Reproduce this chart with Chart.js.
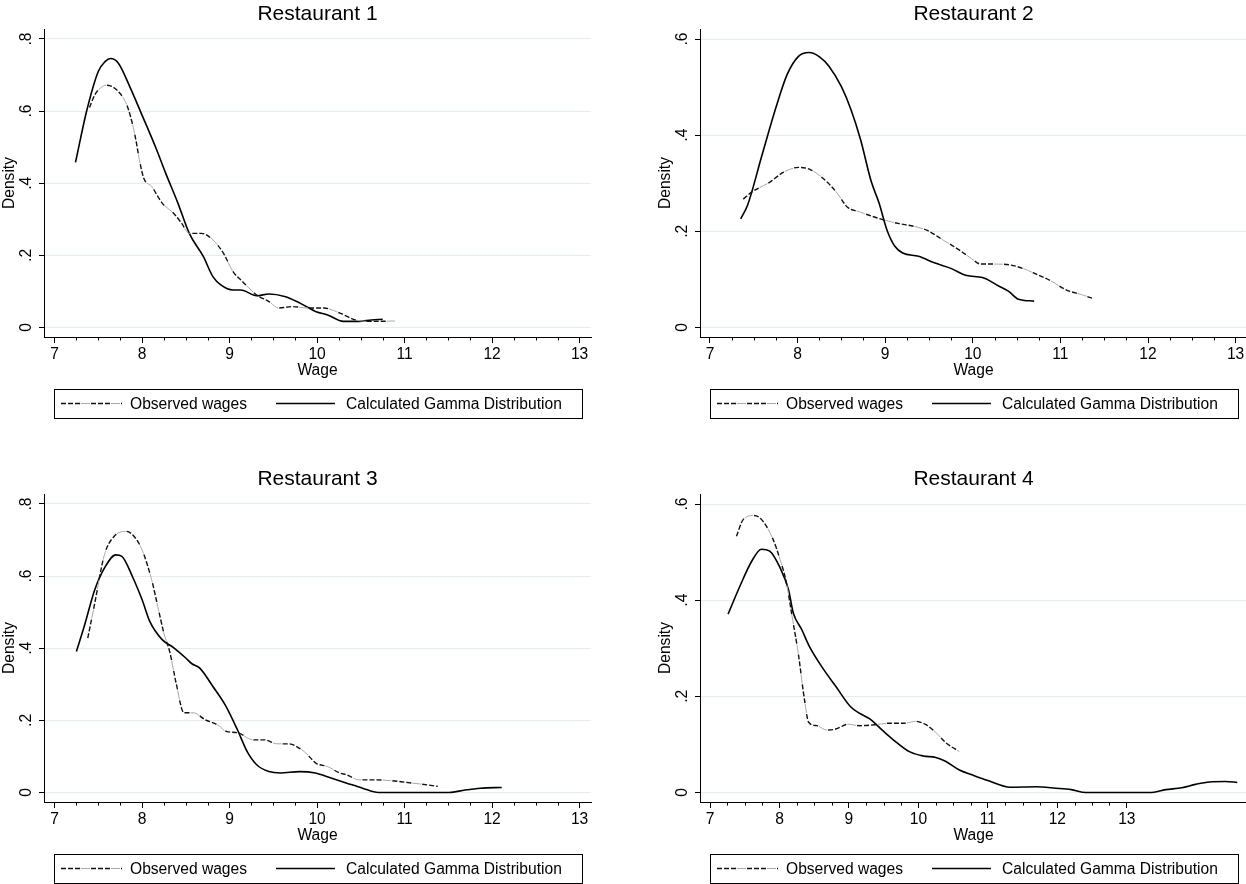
<!DOCTYPE html>
<html>
<head>
<meta charset="utf-8">
<script src="https://cdn.jsdelivr.net/npm/chart.js@4.4.1/dist/chart.umd.min.js"></script>
<style>
    html, body { margin: 0; padding: 0; background: #fff; overflow: hidden; width: 1246px; height: 884px; }
    canvas { position: absolute; }
</style>
</head>
<body>
<canvas id="c1" width="620" height="465" style="left:0;top:0"></canvas>
<canvas id="c2" width="630" height="465" style="left:620px;top:0"></canvas>
<canvas id="c3" width="620" height="465" style="left:0;top:465px"></canvas>
<canvas id="c4" width="630" height="465" style="left:620px;top:465px"></canvas>
<script>
(function () {
    'use strict';

    // Data
    var panelTitles  = ['Restaurant 1', 'Restaurant 2', 'Restaurant 3', 'Restaurant 4'];
    var legendLabels = ['Observed wages', 'Calculated Gamma Distribution'];
    var xTitle = 'Wage';
    var yTitle = 'Density';

    var xTicks       = [7, 8, 9, 10, 11, 12, 13];
    var yTicksHigh   = [0, 0.2, 0.4, 0.6, 0.8];
    var yTicksLow    = [0, 0.2, 0.4, 0.6];
    var yTickLabels  = { 0: '0', 0.2: '.2', 0.4: '.4', 0.6: '.6', 0.8: '.8' };

    // Restaurant 1
    var r1ObsX = [7.40, 7.46, 7.53, 7.59, 7.66, 7.73, 7.79, 7.84, 7.89, 7.93, 7.97, 8.02, 8.11, 8.23, 8.36, 8.45, 8.54, 8.68, 8.81, 8.93, 9.04, 9.15, 9.31, 9.45, 9.56, 9.72, 9.90, 10.08, 10.26, 10.44, 10.62, 10.89];
    var r1ObsY = [0.610, 0.645, 0.665, 0.672, 0.668, 0.654, 0.635, 0.608, 0.565, 0.520, 0.465, 0.414, 0.391, 0.345, 0.317, 0.290, 0.261, 0.261, 0.243, 0.206, 0.155, 0.127, 0.090, 0.072, 0.054, 0.058, 0.054, 0.054, 0.040, 0.021, 0.017, 0.018];
    var r1GamX = [7.24, 7.37, 7.50, 7.58, 7.64, 7.73, 7.86, 8.00, 8.16, 8.27, 8.41, 8.54, 8.70, 8.81, 8.90, 9.04, 9.13, 9.31, 9.45, 9.63, 9.81, 9.99, 10.12, 10.30, 10.48, 10.62, 10.75];
    var r1GamY = [0.458, 0.603, 0.710, 0.738, 0.746, 0.733, 0.668, 0.589, 0.497, 0.428, 0.345, 0.261, 0.197, 0.141, 0.118, 0.104, 0.104, 0.088, 0.093, 0.086, 0.067, 0.044, 0.035, 0.017, 0.017, 0.021, 0.023];

    // Restaurant 2
    var r2ObsX = [7.38, 7.47, 7.68, 7.84, 8.01, 8.15, 8.34, 8.45, 8.57, 8.70, 8.84, 9.00, 9.16, 9.34, 9.48, 9.66, 9.84, 9.98, 10.09, 10.25, 10.43, 10.57, 10.70, 10.89, 11.07, 11.25, 11.36];
    var r2ObsY = [0.267, 0.281, 0.302, 0.323, 0.333, 0.328, 0.302, 0.280, 0.250, 0.241, 0.232, 0.223, 0.216, 0.210, 0.202, 0.182, 0.162, 0.144, 0.132, 0.132, 0.130, 0.123, 0.113, 0.097, 0.078, 0.068, 0.061];
    var r2GamX = [7.35, 7.43, 7.59, 7.75, 7.88, 8.01, 8.13, 8.25, 8.36, 8.50, 8.61, 8.72, 8.84, 8.93, 9.02, 9.11, 9.20, 9.38, 9.57, 9.75, 9.93, 10.11, 10.29, 10.41, 10.52, 10.70];
    var r2GamY = [0.226, 0.255, 0.356, 0.456, 0.526, 0.564, 0.572, 0.563, 0.543, 0.501, 0.453, 0.390, 0.304, 0.259, 0.203, 0.169, 0.155, 0.148, 0.134, 0.123, 0.108, 0.104, 0.087, 0.075, 0.059, 0.055];

    // Restaurant 3
    var r3ObsX = [7.38, 7.46, 7.57, 7.68, 7.82, 7.91, 8.00, 8.11, 8.18, 8.25, 8.32, 8.39, 8.48, 8.59, 8.72, 8.86, 8.97, 9.09, 9.27, 9.40, 9.54, 9.67, 9.85, 9.99, 10.12, 10.26, 10.34, 10.48, 10.66, 10.84, 11.02, 11.20, 11.38];
    var r3ObsY = [0.428, 0.525, 0.659, 0.710, 0.724, 0.710, 0.673, 0.590, 0.516, 0.442, 0.387, 0.303, 0.221, 0.221, 0.202, 0.188, 0.169, 0.166, 0.146, 0.146, 0.135, 0.135, 0.114, 0.081, 0.072, 0.054, 0.049, 0.035, 0.035, 0.033, 0.028, 0.023, 0.017];
    var r3GamX = [7.25, 7.34, 7.46, 7.57, 7.70, 7.77, 7.89, 8.00, 8.09, 8.23, 8.36, 8.50, 8.57, 8.66, 8.81, 8.95, 9.09, 9.20, 9.31, 9.45, 9.58, 9.80, 9.98, 10.16, 10.34, 10.52, 10.70, 10.88, 11.10, 11.33, 11.51, 11.69, 11.87, 12.11];
    var r3GamY = [0.391, 0.461, 0.562, 0.622, 0.659, 0.655, 0.599, 0.535, 0.474, 0.424, 0.402, 0.373, 0.357, 0.345, 0.294, 0.243, 0.174, 0.114, 0.077, 0.058, 0.054, 0.058, 0.054, 0.040, 0.026, 0.012, 0.000, 0.000, 0.000, 0.000, 0.000, 0.007, 0.012, 0.014];

    // Restaurant 4
    var r4ObsX = [7.38, 7.48, 7.63, 7.74, 7.90, 8.01, 8.10, 8.19, 8.27, 8.36, 8.42, 8.54, 8.68, 8.81, 8.99, 9.15, 9.38, 9.56, 9.79, 9.96, 10.11, 10.25, 10.40, 10.59];
    var r4ObsY = [0.533, 0.568, 0.576, 0.568, 0.529, 0.484, 0.436, 0.359, 0.290, 0.193, 0.146, 0.139, 0.130, 0.132, 0.142, 0.139, 0.141, 0.144, 0.144, 0.148, 0.141, 0.125, 0.103, 0.085];
    var r4GamX = [7.26, 7.43, 7.60, 7.74, 7.86, 8.01, 8.13, 8.20, 8.32, 8.43, 8.64, 8.81, 9.02, 9.15, 9.30, 9.50, 9.67, 9.87, 10.07, 10.25, 10.39, 10.59, 10.77, 11.00, 11.32, 11.69, 11.98, 12.20, 12.41, 12.72, 13.01, 13.33, 13.56, 13.79, 13.99, 14.19, 14.42, 14.59];
    var r4GamY = [0.371, 0.429, 0.481, 0.506, 0.502, 0.467, 0.422, 0.373, 0.339, 0.304, 0.255, 0.221, 0.179, 0.165, 0.153, 0.127, 0.106, 0.085, 0.076, 0.073, 0.065, 0.047, 0.037, 0.025, 0.011, 0.012, 0.009, 0.006, 0.000, 0.000, 0.000, 0.000, 0.006, 0.010, 0.017, 0.022, 0.023, 0.021];

    var FONT = '"Liberation Sans", Arial, Helvetica, sans-serif';
    var GRID = '#e4ecee';

    function pts(xs, ys) {
        var out = [];
        for (var i = 0; i < xs.length; i++) out.push({ x: xs[i], y: ys[i] });
        return out;
    }

    // Titles, rotated y labels, minor x ticks and the boxed legend
    var decor = {
        id: 'decor',
        afterDraw: function (chart) {
            var ctx = chart.ctx;
            var ca = chart.chartArea;
            var xs = chart.scales.x;
            var ys = chart.scales.y;
            var opt = chart.options.plugins.decor;

            ctx.save();
            ctx.fillStyle = '#000';

            // panel title
            ctx.font = '21px ' + FONT;
            ctx.textAlign = 'center';
            ctx.textBaseline = 'middle';
            ctx.fillText(opt.title, (ca.left + ca.right) / 2, 14);

            // y tick labels, rotated like the original
            ctx.font = '15.6px ' + FONT;
            ys.ticks.forEach(function (t) {
                var py = ys.getPixelForValue(t.value);
                ctx.save();
                ctx.translate(ca.left - 17.5, py);
                ctx.rotate(-Math.PI / 2);
                ctx.fillText(yTickLabels[t.value], 0, 0);
                ctx.restore();
            });

            // minor x ticks every quarter
            ctx.strokeStyle = '#000';
            ctx.lineWidth = 1;
            ctx.beginPath();
            for (var v = xTicks[0]; v < xTicks[xTicks.length - 1]; v += 0.25) {
                if (v % 1 === 0) continue;
                var px = Math.round(xs.getPixelForValue(v)) + 0.5;
                ctx.moveTo(px, ca.bottom);
                ctx.lineTo(px, ca.bottom + 3.5);
            }
            ctx.stroke();

            // legend box
            var bx = Math.round(ca.left) + 10, by = 389, bw = 528, bh = 29;
            var ly = by + 14.5;
            ctx.strokeStyle = '#000';
            ctx.lineWidth = 1;
            ctx.strokeRect(bx + 0.5, by + 0.5, bw, bh);

            var dsGrey = chart.data.datasets[0];
            var dsObs  = chart.data.datasets[1];
            var dsGam  = chart.data.datasets[2];

            function sample(ds, x0, x1) {
                ctx.save();
                ctx.strokeStyle = ds.borderColor;
                ctx.lineWidth = ds.borderWidth;
                ctx.setLineDash(ds.borderDash || []);
                ctx.lineDashOffset = ds.borderDashOffset || 0;
                ctx.beginPath();
                ctx.moveTo(x0, ly);
                ctx.lineTo(x1, ly);
                ctx.stroke();
                ctx.restore();
            }
            sample(dsGrey, bx + 7, bx + 68);
            sample(dsObs,  bx + 7, bx + 68);
            sample(dsGam,  bx + 222, bx + 281);

            ctx.font = '15.6px ' + FONT;
            ctx.textAlign = 'left';
            ctx.textBaseline = 'middle';
            ctx.fillText(legendLabels[0], bx + 76, ly + 1);
            ctx.fillText(legendLabels[1], bx + 292, ly + 1);
            ctx.restore();
        }
    };

    function makeChart(id, title, obsX, obsY, gamX, gamY, cfg) {
        var config = {
            type: 'line',
            data: {
                datasets: [{
                    label: legendLabels[0],
                    data: pts(obsX, obsY),
                    borderColor: '#a8a8a8',
                    borderWidth: 1,
                    borderDash: [9, 21],
                    borderDashOffset: -20,
                    pointRadius: 0,
                    cubicInterpolationMode: 'monotone',
                    fill: false
                }, {
                    label: legendLabels[0],
                    data: pts(obsX, obsY),
                    borderColor: '#111',
                    borderWidth: 1.4,
                    borderDash: [5, 2, 5, 2, 5, 11],
                    pointRadius: 0,
                    cubicInterpolationMode: 'monotone',
                    fill: false
                }, {
                    label: legendLabels[1],
                    data: pts(gamX, gamY),
                    borderColor: '#000',
                    borderWidth: 1.6,
                    pointRadius: 0,
                    cubicInterpolationMode: 'monotone',
                    fill: false
                }]
            },
            options: {
                responsive: false,
                animation: false,
                devicePixelRatio: 1,
                layout: { padding: { top: 29, bottom: 80, left: cfg.padLeft, right: cfg.padRight } },
                plugins: {
                    legend: { display: false },
                    tooltip: { enabled: false },
                    decor: { title: title }
                },
                scales: {
                    x: {
                        type: 'linear',
                        min: cfg.xMin,
                        max: cfg.xMax,
                        afterBuildTicks: function (s) {
                            s.ticks = xTicks.map(function (v) { return { value: v }; });
                        },
                        afterFit: function (s) { s.height = 48; },
                        ticks: {
                            color: '#000',
                            font: { family: FONT, size: 15.6 },
                            padding: 2,
                            maxRotation: 0,
                            autoSkip: false
                        },
                        grid: { drawOnChartArea: false, drawTicks: true, tickLength: 6, tickColor: '#000' },
                        border: { display: true, color: '#000', width: 1 },
                        title: {
                            display: true,
                            text: xTitle,
                            color: '#000',
                            font: { family: FONT, size: 15.6 },
                            padding: { top: 0, bottom: 4.6 }
                        }
                    },
                    y: {
                        type: 'linear',
                        min: cfg.yMin,
                        max: cfg.yMax,
                        afterBuildTicks: function (s) {
                            s.ticks = cfg.yTicks.map(function (v) { return { value: v }; });
                        },
                        afterFit: function (s) { s.width = 44; },
                        ticks: { display: false },
                        grid: { color: GRID, lineWidth: 1, drawTicks: true, tickLength: 5, tickColor: '#000' },
                        border: { display: true, color: '#000', width: 1 },
                        title: {
                            display: true,
                            text: yTitle,
                            color: '#000',
                            font: { family: FONT, size: 15.6 },
                            padding: { top: 0, bottom: 0 }
                        }
                    }
                }
            },
            plugins: [decor]
        };
        return new Chart(document.getElementById(id), config);
    }

    // axis ranges so that tick positions line up with the original
    var highY = { yMin: -0.0263, yMax: 0.8277, yTicks: yTicksHigh };
    var lowY  = { yMin: -0.0197, yMax: 0.6208, yTicks: yTicksLow };

    makeChart('c1', panelTitles[0], r1ObsX, r1ObsY, r1GamX, r1GamY,
        { padLeft: 0,  padRight: 29, xMin: 6.88,  xMax: 13.13, yMin: highY.yMin, yMax: highY.yMax, yTicks: highY.yTicks });
    makeChart('c2', panelTitles[1], r2ObsX, r2ObsY, r2GamX, r2GamY,
        { padLeft: 36, padRight: 3,  xMin: 6.886, xMax: 13.13, yMin: lowY.yMin,  yMax: lowY.yMax,  yTicks: lowY.yTicks });
    makeChart('c3', panelTitles[2], r3ObsX, r3ObsY, r3GamX, r3GamY,
        { padLeft: 0,  padRight: 29, xMin: 6.88,  xMax: 13.13, yMin: highY.yMin, yMax: highY.yMax, yTicks: highY.yTicks });
    makeChart('c4', panelTitles[3], r4ObsX, r4ObsY, r4GamX, r4GamY,
        { padLeft: 36, padRight: 3,  xMin: 6.856, xMax: 14.73, yMin: lowY.yMin,  yMax: lowY.yMax,  yTicks: lowY.yTicks });

}());
</script>
</body>
</html>
